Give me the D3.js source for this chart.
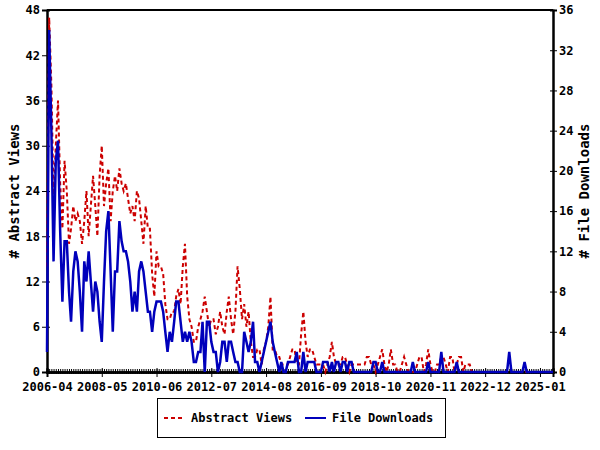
<!DOCTYPE html>
<html lang="en">
<head>
<meta charset="UTF-8">
<title>Abstract Views and File Downloads</title>
<style>
  * { margin: 0; padding: 0; }
  body { background: #fff; }
  svg { display: block; }
  text { font-family: "DejaVu Sans Mono", monospace; font-weight: bold; }
</style>
<script src="https://cdn.jsdelivr.net/npm/d3@7"></script>
</head>
<body>
<div id="chart"></div>
<script>
// monthly series, first value is 2006-04
var firstMonth = '2006-04';
var views = [
  14, 47, 38, 23, 30, 36, 25, 19, 28, 24,
  17, 19, 22, 20, 21, 20, 17, 20, 24, 18,
  22, 26, 22, 18, 26, 30, 22, 25, 27, 20,
  24, 26, 24, 27, 25, 24, 25, 23, 21, 22,
  20, 24, 23, 20, 17, 22, 19, 19, 13, 10,
  16, 14, 14, 13, 9, 7, 7, 8, 8, 10,
  11, 9, 14, 17, 10, 7, 6, 4, 4, 6,
  7, 8, 10, 8, 6, 7, 7, 5, 6, 8,
  6, 5, 8, 10, 7, 5, 8, 14, 11, 7,
  9, 6, 8, 4, 2, 2, 3, 3, 1, 3,
  4, 6, 10, 3, 3, 2, 2, 1, 1, 1,
  1, 2, 3, 3, 1, 1, 5, 8, 4, 2,
  3, 3, 2, 1, 1, 1, 1, 0, 1, 2,
  4, 2, 1, 1, 1, 2, 2, 1, 0, 1,
  1, 1, 1, 1, 1, 1, 2, 2, 1, 1,
  0, 1, 2, 3, 1, 0, 1, 3, 1, 1,
  0, 0, 1, 2, 1, 0, 0, 0, 0, 1,
  2, 2, 0, 1, 3, 1, 0, 0, 1, 1,
  2, 2, 1, 0, 2, 2, 0, 1, 2, 2,
  0, 1, 1, 1, 0, 0, 0, 0, 0, 0,
  0, 0, 0, 0, 0, 0, 0, 0, 0, 0,
  0, 0, 0, 0, 0, 0, 0, 0, 0, 0,
  0, 0, 0, 0, 0, 0, 0, 0, 0, 0,
  0, 0
];
var downloads = [
  2, 34, 24, 11, 21, 23, 14, 7, 13, 13,
  8, 5, 10, 12, 11, 8, 4, 11, 9, 12,
  9, 6, 9, 8, 5, 3, 9, 14, 16, 10,
  4, 10, 10, 15, 13, 12, 12, 11, 9, 6,
  8, 6, 10, 11, 10, 8, 6, 6, 4, 6,
  7, 7, 7, 6, 4, 2, 4, 3, 5, 7,
  7, 5, 3, 4, 3, 4, 3, 1, 1, 2,
  2, 5, 0, 5, 5, 3, 2, 2, 0, 1,
  3, 3, 1, 3, 3, 2, 1, 1, 0, 0,
  4, 3, 2, 3, 5, 1, 1, 0, 1, 2,
  3, 4, 5, 3, 2, 1, 0, 1, 0, 0,
  1, 1, 1, 1, 2, 0, 0, 2, 0, 1,
  1, 1, 1, 0, 0, 0, 1, 1, 1, 0,
  1, 0, 1, 1, 0, 1, 1, 0, 1, 1,
  0, 0, 0, 0, 0, 0, 0, 0, 0, 1,
  1, 0, 0, 1, 0, 0, 0, 0, 0, 0,
  0, 0, 0, 0, 0, 0, 0, 1, 0, 0,
  0, 0, 0, 0, 1, 0, 0, 0, 0, 0,
  2, 0, 0, 0, 0, 0, 0, 1, 0, 0,
  0, 0, 0, 0, 0, 0, 0, 0, 0, 0,
  0, 0, 0, 0, 0, 0, 0, 0, 0, 0,
  0, 2, 0, 0, 0, 0, 0, 0, 1, 0,
  0, 0, 0, 0, 0, 0, 0, 0, 0, 0,
  0, 0
];
var tickLabels = ['2006-04', '2008-05', '2010-06', '2012-07', '2014-08',
                  '2016-09', '2018-10', '2020-11', '2022-12', '2025-01'];
var viewTicks = [0, 6, 12, 18, 24, 30, 36, 42, 48];
var downloadTicks = [0, 4, 8, 12, 16, 20, 24, 28, 32, 36];
var seriesNames = ['Abstract Views', 'File Downloads'];

var w = 600, h = 450,
    plotL = 47, plotR = 553, plotT = 10, plotB = 372,
    red = '#cc0000', blue = '#0000bb';

var svg = d3.select('#chart').append('svg')
    .attr('width', w)
    .attr('height', h);

var parse = d3.timeParse('%Y-%m');
var start = parse(firstMonth);
var months = views.map((d, i) => d3.timeMonth.offset(start, i));

var x = d3.scaleTime()
    .domain([months[0], months[months.length - 1]])
    .range([plotL, plotR]);
var yL = d3.scaleLinear().domain([0, 48]).range([plotB, plotT]);
var yR = d3.scaleLinear().domain([0, 36]).range([plotB, plotT]);

// frame top
svg.append('line')
    .attr('x1', plotL).attr('x2', plotR)
    .attr('y1', plotT).attr('y2', plotT)
    .attr('stroke', '#000').attr('stroke-width', 2);

// LEFT AXIS (ticks cross the line)
svg.append('g')
    .attr('transform', 'translate(' + plotL + ',0)')
    .call(d3.axisLeft(yL).tickValues(viewTicks).tickSize(5).tickPadding(2))
    .attr('id', 'y-axis');
svg.append('g')
    .attr('transform', 'translate(' + plotL + ',0)')
    .call(d3.axisRight(yL).tickValues(viewTicks).tickSize(3).tickFormat(''));

// RIGHT AXIS
svg.append('g')
    .attr('transform', 'translate(' + plotR + ',0)')
    .call(d3.axisRight(yR).tickValues(downloadTicks).tickSize(4).tickPadding(2));
svg.append('g')
    .attr('transform', 'translate(' + plotR + ',0)')
    .call(d3.axisLeft(yR).tickValues(downloadTicks).tickSize(3).tickFormat(''));

// X-AXIS, minor ticks every month
svg.append('g')
    .attr('transform', 'translate(0,' + plotB + ')')
    .call(d3.axisBottom(x).tickValues(months).tickSize(2).tickFormat(''));
svg.append('g')
    .attr('transform', 'translate(0,' + plotB + ')')
    .call(d3.axisTop(x).tickValues(months).tickSize(3).tickFormat(''));
// major ticks + labels
var majors = tickLabels.map(parse);
svg.append('g')
    .attr('transform', 'translate(0,' + plotB + ')')
    .call(d3.axisBottom(x).tickValues(majors).tickSize(5).tickPadding(5)
        .tickFormat(d3.timeFormat('%Y-%m')))
    .attr('id', 'x-axis');
svg.append('g')
    .attr('transform', 'translate(0,' + plotB + ')')
    .call(d3.axisTop(x).tickValues(majors).tickSize(4).tickFormat(''));

svg.selectAll('.domain').attr('stroke-width', 2);
svg.selectAll('.tick line').attr('stroke-width', 1);
svg.selectAll('.tick text')
    .style('font-size', '12px')
    .style('font-family', '"DejaVu Sans Mono", monospace')
    .style('font-weight', 'bold');

// axis titles
svg.append('text')
    .attr('transform', 'translate(19,' + ((plotT + plotB) / 2) + ') rotate(-90)')
    .attr('text-anchor', 'middle')
    .style('font-size', '14px')
    .text('# Abstract Views');
svg.append('text')
    .attr('transform', 'translate(589,' + ((plotT + plotB) / 2) + ') rotate(-90)')
    .attr('text-anchor', 'middle')
    .style('font-size', '14px')
    .text('# File Downloads');

// LINES
var viewLine = d3.line()
    .x((d, i) => x(months[i]))
    .y((d) => yL(d));
var dlLine = d3.line()
    .x((d, i) => x(months[i]))
    .y((d) => yR(d));

svg.append('path')
    .datum(views)
    .attr('d', viewLine)
    .attr('fill', 'none')
    .attr('stroke', red)
    .attr('stroke-width', 2)
    .attr('stroke-dasharray', '4,3');

svg.append('path')
    .datum(downloads)
    .attr('d', dlLine)
    .attr('fill', 'none')
    .attr('stroke', blue)
    .attr('stroke-width', 2.5);

// LEGEND
var legend = svg.append('g');
legend.append('rect')
    .attr('x', 157.5).attr('y', 398.5)
    .attr('width', 288).attr('height', 39)
    .attr('fill', '#fff')
    .attr('stroke', '#000');
var items = [
  { name: seriesNames[0], color: red, dash: '4,3', x: 164 },
  { name: seriesNames[1], color: blue, dash: null, x: 305 }
];
items.forEach(function (it) {
  legend.append('line')
      .attr('x1', it.x).attr('x2', it.x + 21)
      .attr('y1', 418).attr('y2', 418)
      .attr('stroke', it.color)
      .attr('stroke-width', 2)
      .attr('stroke-dasharray', it.dash);
  legend.append('text')
      .attr('x', it.x + 27)
      .attr('y', 418)
      .attr('dy', '0.35em')
      .style('font-size', '12px')
      .text(it.name);
});
</script>
</body>
</html>
